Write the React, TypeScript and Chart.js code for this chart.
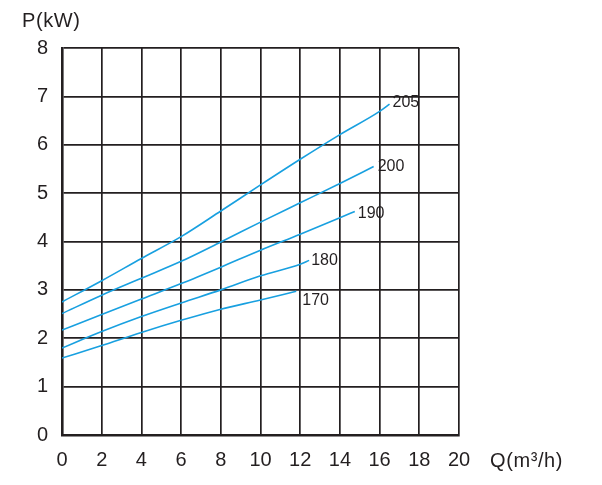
import { useEffect, useRef } from 'react';
import { Chart, registerables, Plugin } from 'chart.js';

Chart.register(...registerables);

// Impeller diameters (mm) for each curve
const curveNames = ['205', '200', '190', '180', '170'];

// Flow Q (m3/h) and power P (kW)
const q205 = [0, 2, 4, 6, 8, 10, 12, 14, 16, 16.5];
const p205 = [2.75, 3.19, 3.65, 4.1, 4.63, 5.17, 5.7, 6.21, 6.69, 6.84];

const q200 = [0, 2, 4, 6, 8, 10, 12, 14, 15.7];
const p200 = [2.51, 2.89, 3.24, 3.59, 3.99, 4.4, 4.8, 5.2, 5.55];

const q190 = [0, 2, 4, 6, 8, 10, 12, 14, 14.75];
const p190 = [2.17, 2.49, 2.81, 3.13, 3.47, 3.82, 4.15, 4.49, 4.62];

const q180 = [0, 2, 4, 6, 8, 10, 12, 12.45];
const p180 = [1.8, 2.14, 2.45, 2.73, 3.0, 3.29, 3.53, 3.61];

const q170 = [0, 2, 4, 6, 8, 10, 11.8];
const p170 = [1.59, 1.85, 2.12, 2.37, 2.6, 2.79, 2.97];

const flows = [q205, q200, q190, q180, q170];
const powers = [p205, p200, p190, p180, p170];

// where each curve label sits relative to the curve's last point
const labelShift = [
  [3, -2],
  [4, 0],
  [3, 2],
  [2, 0],
  [6, 9],
];

const INK = '#231f20';
const BLUE = '#18a0e0';
const FONT = "'Liberation Sans', Arial, sans-serif";

const curveLabels: Plugin<'line'> = {
  id: 'curveLabels',
  afterDatasetsDraw(chart) {
    const ctx = chart.ctx;
    ctx.save();
    ctx.font = `16px ${FONT}`;
    ctx.fillStyle = INK;
    ctx.textAlign = 'left';
    ctx.textBaseline = 'middle';
    chart.data.datasets.forEach((ds, i) => {
      const pts = chart.getDatasetMeta(i).data;
      const last = pts[pts.length - 1];
      if (!last) return;
      ctx.fillText(String(ds.label), last.x + labelShift[i][0], last.y + labelShift[i][1]);
    });
    ctx.restore();
  },
};

const axisTitles: Plugin<'line'> = {
  id: 'axisTitles',
  afterDraw(chart) {
    const ctx = chart.ctx;
    const { x, y } = chart.scales;
    ctx.save();
    ctx.font = `20px ${FONT}`;
    ctx.fillStyle = INK;
    ctx.textAlign = 'left';
    ctx.textBaseline = 'alphabetic';
    (ctx as any).letterSpacing = '0.6px';
    ctx.fillText('P(kW)', y.left + 22, y.top - 21);
    ctx.fillText('Q(m³/h)', x.right + 31, x.top + 32);
    ctx.restore();
  },
};

export default function App() {
  const canvasRef = useRef<HTMLCanvasElement>(null);
  const chartRef = useRef<Chart | null>(null);

  useEffect(() => {
    if (!canvasRef.current) return;
    if (chartRef.current) chartRef.current.destroy();

    chartRef.current = new Chart(canvasRef.current, {
      type: 'line',
      data: {
        datasets: curveNames.map((name, i) => ({
          label: name,
          data: flows[i].map((q, j) => ({ x: q, y: powers[i][j] })),
          borderColor: BLUE,
          borderWidth: 1.6,
          pointRadius: 0,
          fill: false,
          cubicInterpolationMode: 'monotone' as const,
        })),
      },
      options: {
        responsive: false,
        animation: false,
        devicePixelRatio: 1,
        layout: { padding: { top: 48, right: 143, left: 0, bottom: 0 } },
        plugins: {
          legend: { display: false },
          tooltip: { enabled: false },
        },
        scales: {
          x: {
            type: 'linear',
            min: 0,
            max: 20,
            ticks: {
              stepSize: 2,
              color: INK,
              padding: 13,
              maxRotation: 0,
              font: { family: FONT, size: 20 },
            },
            grid: { color: INK, lineWidth: 1.7, drawTicks: false },
            border: { color: INK, width: 2.6 },
            afterFit: (scale) => {
              scale.height = 50;
            },
          },
          y: {
            min: 0,
            max: 8,
            ticks: {
              stepSize: 1,
              color: INK,
              padding: 14,
              font: { family: FONT, size: 20 },
            },
            grid: { color: INK, lineWidth: 1.7, drawTicks: false },
            border: { color: INK, width: 2.6 },
            afterFit: (scale) => {
              scale.width = 62;
            },
          },
        },
      },
      plugins: [curveLabels, axisTitles],
    });

    return () => {
      if (chartRef.current) {
        chartRef.current.destroy();
        chartRef.current = null;
      }
    };
  }, []);

  return (
    <div style={{ position: 'absolute', left: 0, top: 0, width: 602, height: 485, background: '#fff' }}>
      <canvas ref={canvasRef} width={602} height={485} />
    </div>
  );
}
